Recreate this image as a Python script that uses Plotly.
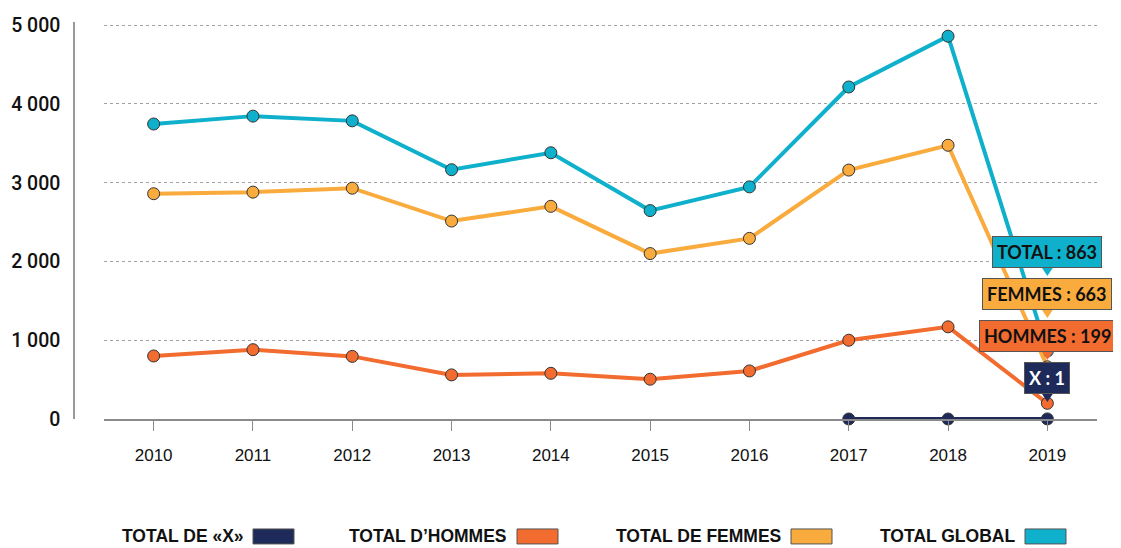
import plotly.graph_objects as go

years = ["2010", "2011", "2012", "2013", "2014", "2015", "2016", "2017", "2018", "2019"]
total_global = [3745, 3845, 3785, 3165, 3380, 2646, 2947, 4215, 4860, 863]
total_femmes = [2860, 2880, 2930, 2513, 2700, 2100, 2293, 3160, 3475, 663]
total_hommes = [800, 880, 795, 560, 580, 505, 610, 1000, 1170, 199]
total_x = [None, None, None, None, None, None, None, 0, 0, 1]

y_ticks = [0, 1000, 2000, 3000, 4000, 5000]
y_ticktext = ["0", "1 000", "2 000", "3 000", "4 000", "5 000"]

series = [
    ("TOTAL GLOBAL", total_global, "#0fb0cb"),
    ("TOTAL DE FEMMES", total_femmes, "#f9ab3d"),
    ("TOTAL D\u2019HOMMES", total_hommes, "#f26b2f"),
    ("TOTAL DE \u00abX\u00bb", total_x, "#1e2a5a"),
]

callouts = [
    ("TOTAL : 863", "#0fb0cb", "#111111"),
    ("FEMMES : 663", "#f9ab3d", "#111111"),
    ("HOMMES : 199", "#f26b2f", "#111111"),
    ("X : 1", "#1e2a5a", "#ffffff"),
]

# page body adds an 8px margin; compensate
OFF = 8
W, H = 1121 - OFF, 548 - OFF
YMAX = 5040
# reference geometry: vertical axis at x=74, grid/x-axis 104..1097, y(0)=419, y(5000)=25
AXIS_X, PLOT_L, PLOT_R = 74, 104, 1097
Y0_PX, Y5000_PX = 419, 25
scale = (Y0_PX - Y5000_PX) / 5000.0
plot_top_ref = Y0_PX - YMAX * scale
L = AXIS_X - OFF
R = W - (PLOT_R - OFF)
T = plot_top_ref - OFF
B = H - (Y0_PX - OFF)
PW, PH = PLOT_R - AXIS_X, Y0_PX - plot_top_ref


def px(xp):
    return (xp - AXIS_X) / PW


def py(yp):
    return (Y0_PX - yp) / PH


fig = go.Figure()
for name, vals, col in series:
    fig.add_trace(go.Scatter(
        x=years, y=vals, name=name, mode="lines+markers",
        line=dict(color=col, width=4),
        marker=dict(size=12, color=col, line=dict(color="#333333", width=1)),
        cliponaxis=False, showlegend=False,
    ))

annotations = []
shapes = []

# callout boxes (anchored on the last category)
last_idx = len(years) - 1
box_centers = [252, 294, 336, 378]
for (txt, bg, fc), cy in zip(callouts, box_centers):
    annotations.append(dict(
        x=last_idx, xref="x", y=py(cy), yref="paper", text=txt, showarrow=False,
        font=dict(family="Lato", size=18, color=fc, weight="bold"),
        bgcolor=bg, bordercolor="#555555", borderwidth=1, borderpad=4,
        xanchor="center", yanchor="middle",
    ))
    shapes.append(dict(
        type="path", xref="x", yref="paper", xsizemode="pixel", ysizemode="pixel",
        xanchor=last_idx, yanchor=py(cy + 15),
        path="M -6 0 L 6 0 L 0 -9 Z", fillcolor=bg, line=dict(width=0),
    ))

# legend (text then swatch)
legend_items = [
    ("TOTAL DE \u00abX\u00bb", "#1e2a5a", 246, 253),
    ("TOTAL D\u2019HOMMES", "#f26b2f", 509, 517),
    ("TOTAL DE FEMMES", "#f9ab3d", 783, 791),
    ("TOTAL GLOBAL", "#0fb0cb", 1017, 1025),
]
for name, col, tx, sx in legend_items:
    annotations.append(dict(
        x=px(tx), xref="paper", y=py(536), yref="paper", text=name, showarrow=False,
        xanchor="right", yanchor="middle",
        font=dict(family="Liberation Sans", size=17.5, color="#111111", weight="bold"),
    ))
    shapes.append(dict(type="rect", xref="paper", yref="paper",
                       x0=px(sx), x1=px(sx + 41), y0=py(529), y1=py(544),
                       fillcolor=col, line=dict(color="#555555", width=1)))

fig.update_layout(
    width=W, height=H,
    margin=dict(l=L, r=R, t=T, b=B, pad=0),
    paper_bgcolor="white", plot_bgcolor="white",
    annotations=annotations, shapes=shapes,
    xaxis=dict(
        type="category", range=[-0.5, 9.5], showgrid=False,
        domain=[px(PLOT_L), 1], automargin=False,
        showline=True, linecolor="#8a8a8a", linewidth=1.5,
        ticks="outside", ticklen=10, tickcolor="#8a8a8a", tickwidth=1,
        tickfont=dict(family="Liberation Sans", size=17, color="#111111"),
        ticklabelstandoff=10, fixedrange=True,
    ),
    yaxis=dict(
        range=[0, YMAX], tickvals=y_ticks, ticktext=y_ticktext,
        anchor="free", position=0, automargin=False,
        showgrid=True, gridcolor="#a0a0a0", griddash="dot", gridwidth=1,
        zeroline=False, showline=True, linecolor="#9a9a9a", linewidth=1.5,
        tickfont=dict(family="Roboto", size=19.5, color="#111111", weight=500),
        ticklabelstandoff=9, fixedrange=True,
    ),
    showlegend=False,
)

fig.write_html("out.html")
